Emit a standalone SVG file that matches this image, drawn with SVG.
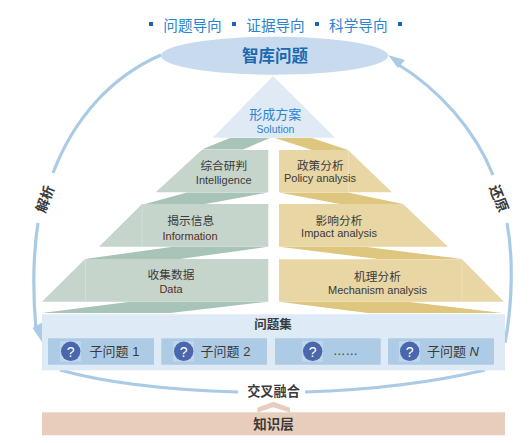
<svg xmlns="http://www.w3.org/2000/svg" width="530" height="443" viewBox="0 0 530 443">
<style>
text{font-family:"Liberation Sans","Noto Sans CJK SC",sans-serif;text-anchor:middle;fill:#3a3a3a}
.cn{font-size:11.700px}.en{font-size:11px}
.blue{fill:#2a84cf}
.arc{fill:none;stroke:#a9cbe6;stroke-width:3.2}
.gb{fill:#c6d5cc}.gd{fill:#a8c3b7}.yb{fill:#e8d6a4}.yd{fill:#dfc67f}
.sep{stroke:#d8e3dc;stroke-width:.7}.sepy{stroke:#f0e4c4;stroke-width:.7}
.sub{fill:#adcbe5}.ico{fill:#c0d6ea}.q{fill:#4a66ac}
.qt{fill:#fff;font-size:14px}
.sq{fill:#1566b8}
</style>
<g id="connectors">
<path class="arc" d="M161 55C112 76 74 118 53 173"/>
<path class="arc" d="M38 223C33 255 33 295 36 330"/>
<polygon points="42,342 32.500,328 43,322" fill="#a9cbe6"/>
<path class="arc" d="M396 63C440 90 475 130 493 175"/>
<polygon points="388,55 405,60 398,68" fill="#a9cbe6"/>
<path class="arc" d="M507 223C513 255 513 300 505 343"/>
<path class="arc" d="M60 370C110 384 170 390 238 392"/>
<path class="arc" d="M305 392C370 390 430 383 485 370"/>
</g>
<g id="header">
<rect class="sq" x="149" y="22" width="4" height="4"/><rect class="sq" x="232" y="22" width="4" height="4"/><rect class="sq" x="315" y="22" width="4" height="4"/><rect class="sq" x="398" y="22" width="4" height="4"/>
<text class="blue" x="192.500" y="30.500" font-size="14.600">问题导向</text>
<text class="blue" x="275.500" y="30.500" font-size="14.600">证据导向</text>
<text class="blue" x="358.300" y="30.500" font-size="14.600">科学导向</text>
</g>
<g id="top"><ellipse cx="274.500" cy="55.700" rx="113.500" ry="19" fill="#c8daed"/>
<text x="275" y="61.500" font-size="16.500" font-weight="bold" style="fill:#1a68b0">智库问题</text></g>
<g id="solution"><polygon points="273,76 335,137.700 212.700,137.700" fill="#dfeaf5"/>
<text class="blue" x="275.300" y="118.500" font-size="13">形成方案</text><text class="blue" x="275.500" y="133" font-size="10.500">Solution</text></g>
<g id="left-connectors">
<polygon class="gd" points="201.700,149.500 230,138 270,138 243,149.500"/>
<polygon class="gd" points="145,204 187,192.500 268,192.500 205,204"/>
<polygon class="gd" points="85,259 173,246.700 268,246.700 180,259"/>
<polygon class="gd" points="42,313 130,301.700 268,301.700 170,313"/>
</g>
<g id="intelligence"><polygon class="gb" points="155.700,192.300 201.700,150 268.300,150 268.300,192.300"/>
<text class="cn" x="223.800" y="170">综合研判</text><text class="en" x="223.700" y="184">Intelligence</text></g>
<g id="information"><polygon class="gb" points="99,246.700 142,204 268.300,204 268.300,246.700"/><line class="sep" x1="142" y1="204" x2="142" y2="246.700"/>
<text class="cn" x="190.700" y="225">揭示信息</text><text class="en" x="190" y="239.500" style="fill:#5a2c22">Information</text></g>
<g id="data"><polygon class="gb" points="42,301.700 85,259 268.300,259 268.300,301.700"/><line class="sep" x1="85.500" y1="259" x2="85.500" y2="301.700"/>
<text class="cn" x="171" y="279">收集数据</text><text class="en" x="171" y="292.500" style="fill:#5a2c22">Data</text></g>
<g id="right-connectors">
<polygon class="yd" points="275,138 312,138 348,150 312,150"/>
<polygon class="yd" points="279,192.500 348,192.500 403,204 340,204"/>
<polygon class="yd" points="279,246.700 365,246.700 462,259 378,259"/>
<polygon class="yd" points="279,301.700 408,301.700 502,313 368,313"/>
</g>
<g id="policy"><polygon class="yb" points="279,150 348,150 392,192.300 279,192.300"/><line class="sepy" x1="348.500" y1="150" x2="348.500" y2="192.300"/>
<text class="cn" x="320.300" y="170">政策分析</text><text class="en" x="320" y="181.800">Policy analysis</text></g>
<g id="impact"><polygon class="yb" points="279,204 403,204 448,246.700 279,246.700"/>
<text class="cn" x="339" y="225">影响分析</text><text class="en" x="339" y="237">Impact analysis</text></g>
<g id="mechanism"><polygon class="yb" points="279,259.300 462,259.300 504,301.700 279,301.700"/><line class="sepy" x1="462" y1="259.300" x2="462" y2="301.700"/>
<text class="cn" x="377.500" y="281">机理分析</text><text class="en" x="377.500" y="293.500">Mechanism analysis</text></g>
<g id="question-set"><rect x="42" y="314.300" width="463" height="56" fill="#deeaf5"/>
<text x="273" y="329" font-size="12.500" font-weight="bold">问题集</text></g>
<g id="q1"><rect class="sub" x="48" y="338.300" width="106" height="26.400"/><rect class="ico" x="60" y="341" width="21" height="20.700"/><circle class="q" cx="70.700" cy="351.300" r="9.700"/><text class="qt" x="70.700" y="356.500">?</text><text x="114.500" y="356" font-size="13">子问题 1</text></g>
<g id="q2"><rect class="sub" x="161.300" y="338.300" width="105.700" height="26.400"/><rect class="ico" x="173" y="341" width="21" height="20.700"/><circle class="q" cx="183.700" cy="351.300" r="9.700"/><text class="qt" x="183.700" y="356.500">?</text><text x="225.500" y="356" font-size="13">子问题 2</text></g>
<g id="q3"><rect class="sub" x="275" y="338.300" width="105.700" height="26.400"/><rect class="ico" x="302" y="341" width="21" height="20.700"/><circle class="q" cx="312.700" cy="351.300" r="9.700"/><text class="qt" x="312.700" y="356.500">?</text><text x="345.500" y="355" font-size="12.500">……</text></g>
<g id="qn"><rect class="sub" x="388" y="338.300" width="106" height="26.400"/><rect class="ico" x="399" y="341" width="21" height="20.700"/><circle class="q" cx="409.700" cy="351.300" r="9.700"/><text class="qt" x="409.700" y="356.500">?</text><text x="453" y="356" font-size="13">子问题 <tspan font-style="italic">N</tspan></text></g>
<g id="labels">
<text x="0" y="5" font-size="14" font-weight="bold" transform="translate(45 199) rotate(-70)">解析</text>
<text x="0" y="5" font-size="14" font-weight="bold" transform="translate(499 198.500) rotate(68)">还原</text>
<text x="273.500" y="395.800" font-size="13.200" font-weight="bold">交叉融合</text>
</g>
<g id="knowledge"><path d="M257.300 412.500V407.700L273.300 401.700 290 407.700V412.500L273.300 407.300Z" fill="#e9cdbc"/><rect x="42" y="412.300" width="463" height="23" fill="#e9cdbc"/>
<text x="273.500" y="429" font-size="13.500" font-weight="bold">知识层</text></g>
</svg>
